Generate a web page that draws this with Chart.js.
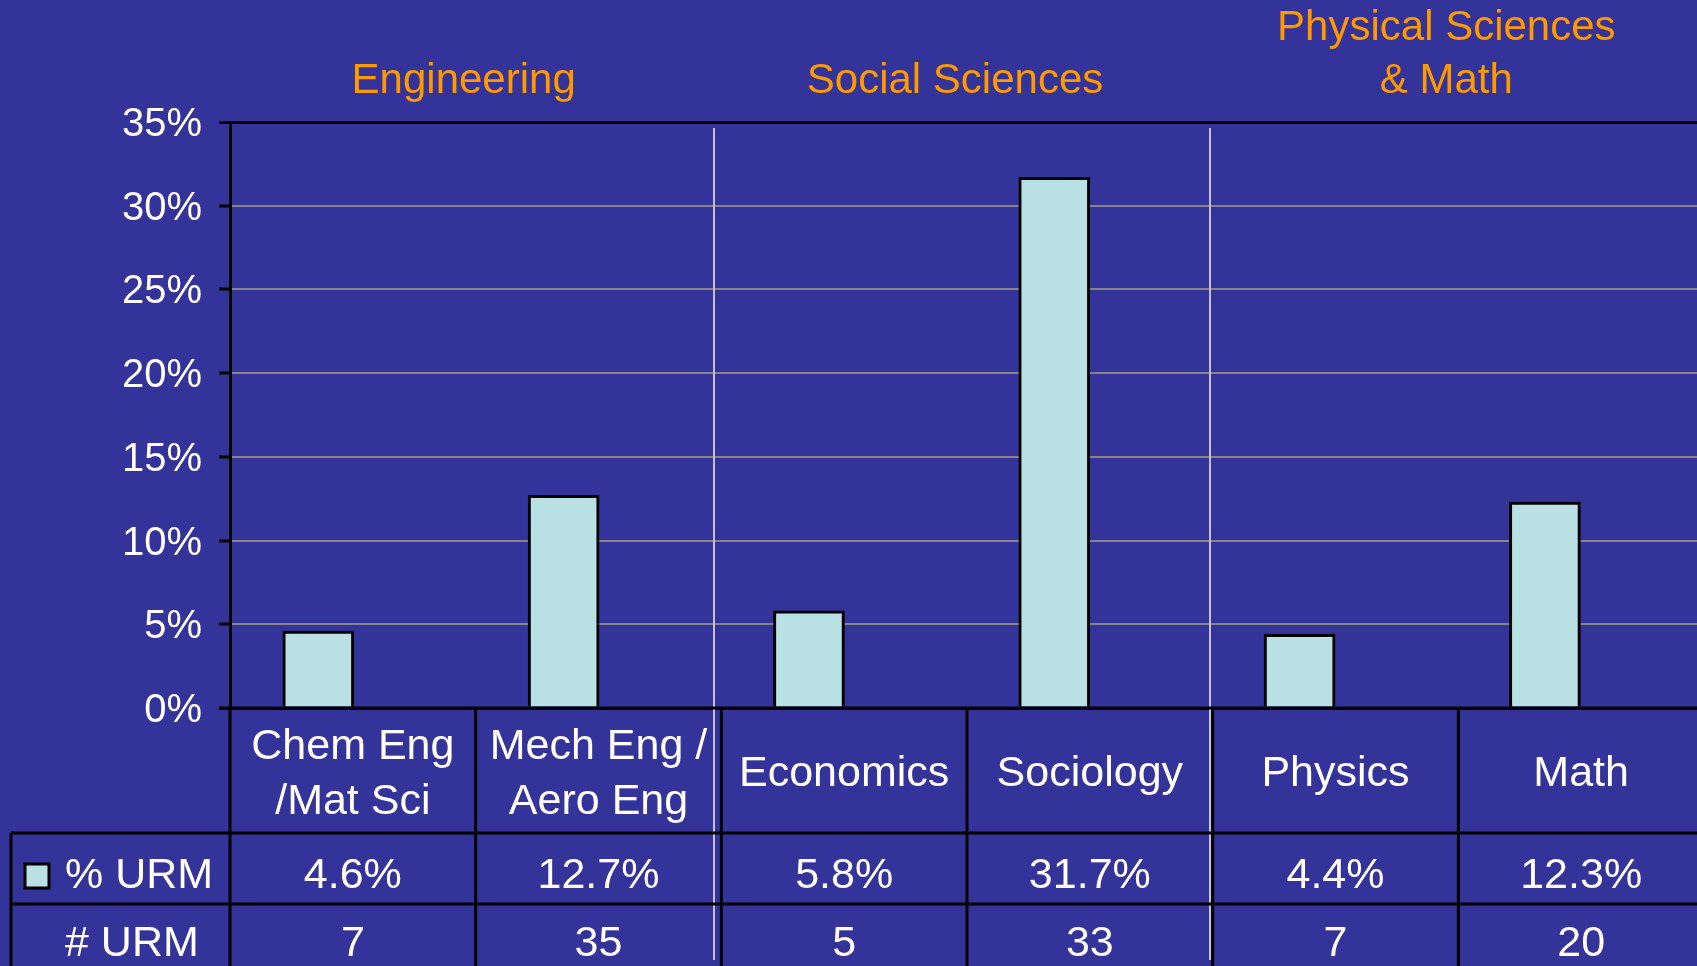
<!DOCTYPE html>
<html>
<head>
<meta charset="utf-8">
<title>% URM by field</title>
<script src="https://cdn.jsdelivr.net/npm/chart.js@4.4.0/dist/chart.umd.min.js"></script>
<style>
    html, body { margin: 0; padding: 0; background: #333399; }
    #wrap { width: 1697px; height: 966px; overflow: hidden; }
</style>
</head>
<body>
<div id="wrap"><canvas id="chart-urm" width="1697" height="966"></canvas></div>
<script>
// data
var field_labels = [["Chem Eng", "/Mat Sci"], ["Mech Eng /", "Aero Eng"], ["Economics"], ["Sociology"], ["Physics"], ["Math"]];
var pct_urm = [4.6, 12.7, 5.8, 31.7, 4.4, 12.3];
var num_urm = [7, 35, 5, 33, 7, 20];
var group_names = [["Engineering"], ["Social Sciences"], ["Physical Sciences", "& Math"]];
var group_sizes = [2, 2, 2];
var y_ticks = [0, 5, 10, 15, 20, 25, 30, 35];
var row_names = ["% URM", "# URM"];

var FONT = "'Liberation Sans', Arial, sans-serif";
var BAR_COLOR = '#B9E0E2';
var ORANGE = '#FF9900';
var SEP_SHIFT = [-7, -3]; // separators sit a bit left of the table borders

function textAt(ctx, txt, x, yCenter, size, align) {
    ctx.font = size + 'px ' + FONT;
    ctx.textAlign = align || 'center';
    ctx.textBaseline = 'alphabetic';
    ctx.fillText(txt, x, yCenter + size * 0.358); // caps centred on yCenter
}

// data table under the plot + group titles + separators
var tablePlugin = {
    id: 'urmTable',
    afterDraw: function(chart) {
        var ctx = chart.ctx;
        var a = chart.chartArea;
        var n = field_labels.length;
        var tbl_right = a.right + 7; // table runs a little past the page edge
        var col_w = (tbl_right - a.left) / n;
        var r0 = a.bottom, r1 = r0 + 125, r2 = r1 + 71, r3 = r2 + 72;
        var tbl_left = 11;

        ctx.save();

        // group separators (thin light lines)
        ctx.strokeStyle = '#c4c4d0';
        ctx.lineWidth = 2;
        ctx.beginPath();
        var start = 0;
        for (var g = 0; g < group_sizes.length - 1; g++) {
            start += group_sizes[g];
            var sx = Math.round(a.left + start * col_w) + SEP_SHIFT[g];
            ctx.moveTo(sx, a.top + 6);
            ctx.lineTo(sx, 960);
        }
        ctx.stroke();

        // table grid
        ctx.strokeStyle = 'black';
        ctx.lineWidth = 3;
        ctx.beginPath();
        ctx.moveTo(a.left - 11, r0); ctx.lineTo(tbl_right, r0);
        ctx.moveTo(tbl_left, r1); ctx.lineTo(tbl_right, r1);
        ctx.moveTo(tbl_left, r2); ctx.lineTo(tbl_right, r2);
        ctx.moveTo(tbl_left, r1); ctx.lineTo(tbl_left, r3);
        for (var k = 0; k <= n; k++) {
            var x = a.left + k * col_w;
            ctx.moveTo(x, r0); ctx.lineTo(x, r3);
        }
        ctx.stroke();

        // cell texts
        ctx.fillStyle = 'white';
        for (var i = 0; i < n; i++) {
            var cx = a.left + (i + 0.5) * col_w;
            var lines = field_labels[i];
            var mid = r0 + 63;
            for (var j = 0; j < lines.length; j++) {
                var ly = mid + (j - (lines.length - 1) / 2) * 55;
                textAt(ctx, lines[j], cx, ly, 43);
            }
            textAt(ctx, pct_urm[i].toFixed(1) + '%', cx, r1 + 40, 43);
            textAt(ctx, String(num_urm[i]), cx, r2 + 37, 43);
        }

        // row headers with legend key
        ctx.fillStyle = BAR_COLOR;
        ctx.fillRect(25, r1 + 31, 24, 24);
        ctx.strokeStyle = 'black';
        ctx.lineWidth = 3;
        ctx.strokeRect(25, r1 + 31, 24, 24);
        ctx.fillStyle = 'white';
        textAt(ctx, row_names[0], 65, r1 + 40, 43, 'left');
        textAt(ctx, row_names[1], 65, r2 + 37, 43, 'left');

        // group titles
        ctx.fillStyle = ORANGE;
        start = 0;
        for (var g2 = 0; g2 < group_names.length; g2++) {
            var gx = a.left + (start + group_sizes[g2] / 2) * col_w - 12;
            var gl = group_names[g2];
            for (var m = 0; m < gl.length; m++) {
                var gy = 78 - (gl.length - 1 - m) * 53;
                textAt(ctx, gl[m], gx, gy, 42);
            }
            start += group_sizes[g2];
        }
        ctx.restore();
    }
};

var bar_points = pct_urm.map(function(v, i) { return { x: i, y: v }; });

var ctx = document.getElementById('chart-urm').getContext('2d');
var myChart = new Chart(ctx, {
    type: 'bar',
    data: {
        datasets: [{
            label: row_names[0],
            data: bar_points,
            backgroundColor: BAR_COLOR,
            borderColor: 'black',
            borderWidth: 3,
            borderSkipped: 'bottom',
            barThickness: 71,
        }],
    },
    options: {
        responsive: false,
        animation: false,
        layout: {
            padding: { left: 0, right: 0, top: 122, bottom: 258 }
        },
        scales: {
            x: {
                type: 'linear',
                min: -0.36,
                max: 5.62,
                offset: false,
                display: false,
            },
            y: {
                min: 0,
                max: 35,
                afterBuildTicks: function(s) {
                    s.ticks = y_ticks.map(function(v) { return { value: v }; });
                },
                afterFit: function(s) { s.width = 230; },
                ticks: {
                    color: 'white',
                    padding: 17,
                    labelOffset: 3,
                    font: { family: FONT, size: 40 },
                    callback: function(v) { return v + '%'; },
                },
                grid: {
                    color: function(c) {
                        return (c.tick && (c.tick.value === 35 || c.tick.value === 0)) ? 'black' : '#858585';
                    },
                    lineWidth: function(c) {
                        return (c.tick && (c.tick.value === 35 || c.tick.value === 0)) ? 3 : 2;
                    },
                    tickColor: 'black',
                    tickLength: 11,
                    tickWidth: 3,
                },
                border: { color: 'black', width: 3 },
            },
        },
        plugins: {
            legend: { display: false },
            tooltip: { enabled: false },
        },
    },
    plugins: [tablePlugin],
});
</script>
</body>
</html>
